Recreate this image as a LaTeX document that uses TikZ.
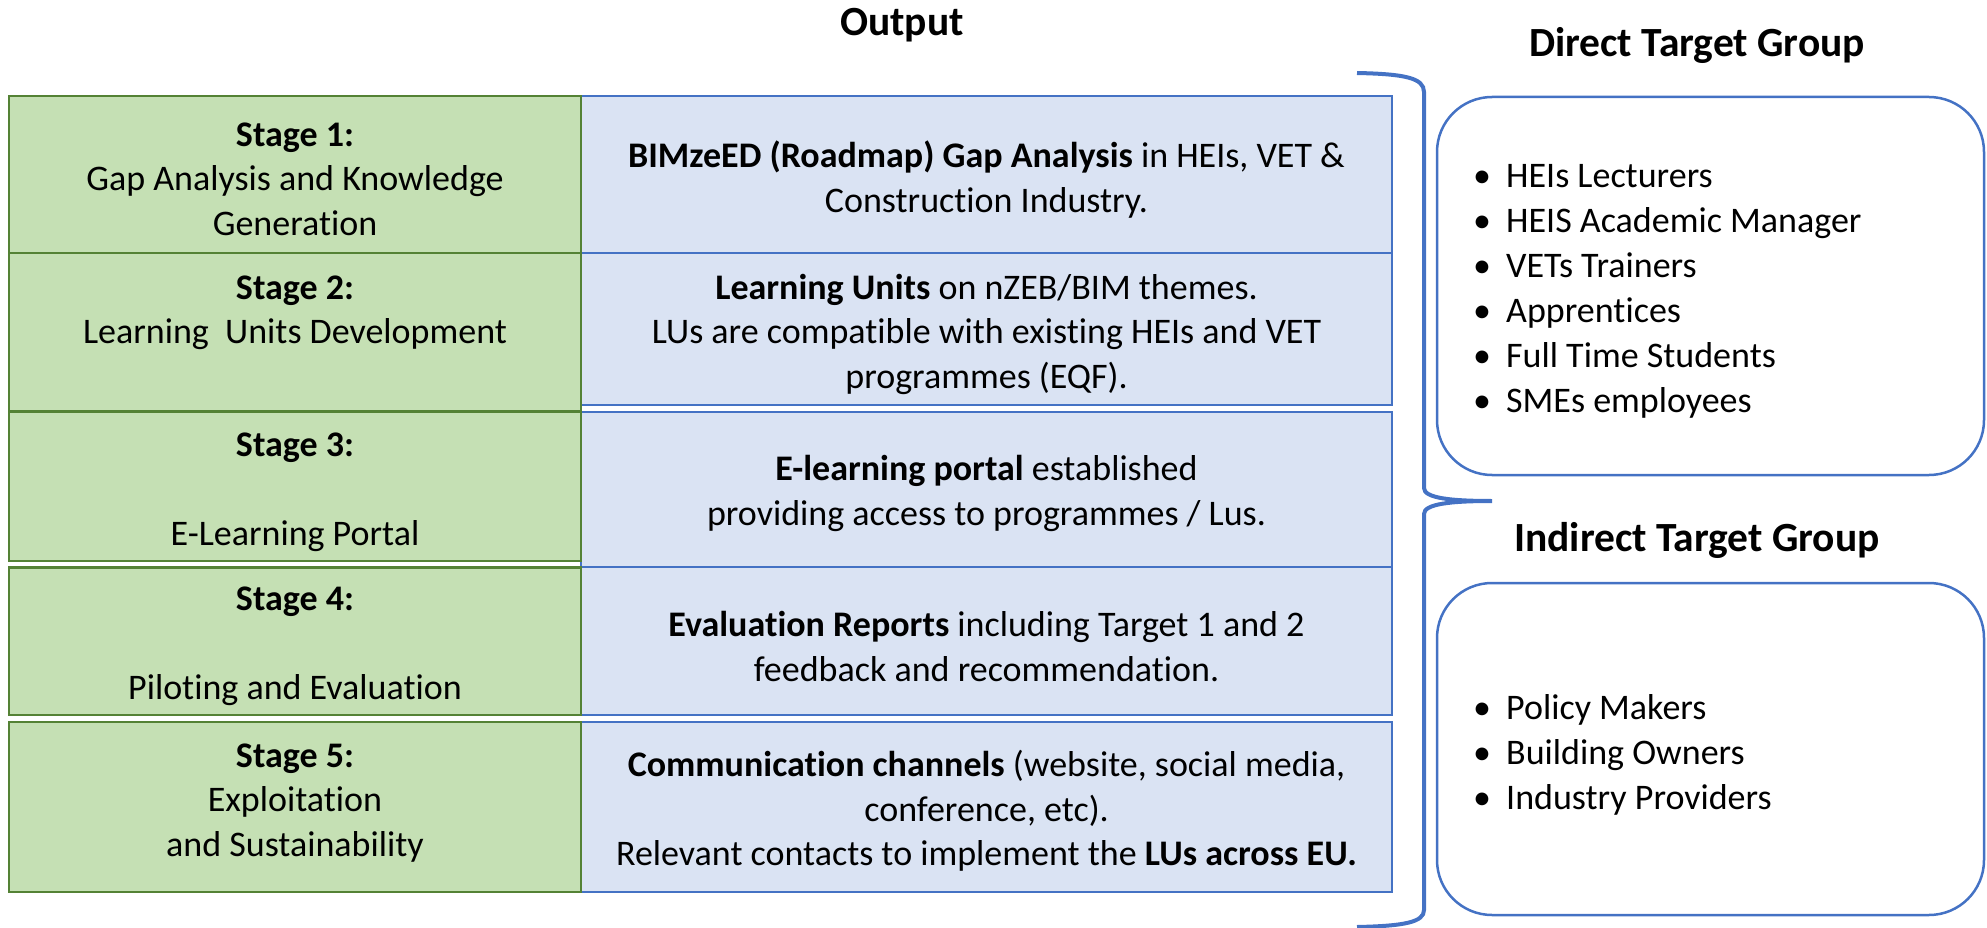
\documentclass[tikz,border=0pt]{standalone}
\usepackage{fontspec}
\setmainfont{Carlito}[Ligatures=NoCommon]
\definecolor{grnF}{HTML}{C5E0B4}
\definecolor{grnB}{HTML}{548235}
\definecolor{bluF}{HTML}{DAE3F3}
\definecolor{bluB}{HTML}{4472C4}
\newcommand\bitem[1]{\makebox[33pt][l]{\textbullet}#1}
\begin{document}
\begin{tikzpicture}[x=1pt,y=-1pt,
  gbox/.style={draw=grnB, fill=grnF, line width=2.5pt},
  bbox/.style={draw=bluB, fill=bluF, line width=2.5pt},
  tbox/.style={draw=bluB, line width=2.5pt, rounded corners=55pt},
  body/.style={font=\fontsize{36}{44.5}\selectfont, align=center, inner sep=0pt, yshift=-3pt},
  blist/.style={font=\fontsize{36}{45}\selectfont, align=left, inner sep=0pt, anchor=west, yshift=-4pt},
  ttl/.style={font=\fontsize{41.5}{50}\selectfont\bfseries, inner sep=0pt, yshift=-2pt},
  bracestyle/.style={draw=bluB, line width=4pt}]
\useasboundingbox (0,0) rectangle (1987,928);

% blue output boxes
\path[bbox] (581,96) rectangle (1392,253);
\path[bbox] (581,253) rectangle (1392,405);
\path[bbox] (581,412) rectangle (1392,567);
\path[bbox] (581,567) rectangle (1392,715);
\path[bbox] (581,722) rectangle (1392,892);

% green stage boxes
\path[gbox] (9,96) rectangle (581,253);
\path[gbox] (9,253) rectangle (581,411.5);
\path[gbox] (9,411.5) rectangle (581,561);
\path[gbox] (9,567.5) rectangle (581,715);
\path[gbox] (9,722) rectangle (581,892);

% titles
\node[ttl] (tout) at (902,23) {Output};
\node[ttl] (tdir) at (1697,43) {Direct Target Group};
\node[ttl] (tind) at (1697,538) {Indirect Target Group};

% stage texts
\node[body] (s1) at (295,176) {\textbf{Stage 1:}\\Gap Analysis and Knowledge\\Generation};
\node[body] (s2) at (295,310) {\textbf{Stage 2:}\\Learning\ \ Units Development};
\node[body] (s3) at (295,489) {\textbf{Stage 3:}\\[44.5pt]E-Learning Portal};
\node[body] (s4) at (295,643.5) {\textbf{Stage 4:}\\[44.5pt]Piloting and Evaluation};
\node[body] (s5) at (295,800) {\textbf{Stage 5:}\\Exploitation\\and Sustainability};

% output texts
\node[body] (o1) at (986.5,176.5) {\textbf{BIMzeED (Roadmap) Gap Analysis} in HEIs, VET \&\\Construction Industry.};
\node[body] (o2) at (986.5,331) {\textbf{Learning Units} on nZEB/BIM themes.\\LUs are compatible with existing HEIs and VET\\programmes (EQF).};
\node[body] (o3) at (986.5,490.5) {\textbf{E-learning portal} established\\providing access to programmes / Lus.};
\node[body] (o4) at (986.5,643.5) {\textbf{Evaluation Reports} including Target 1 and 2\\feedback and recommendation.};
\node[body] (o5) at (986.5,808) {\textbf{Communication channels} (website, social media,\\conference, etc).\\Relevant contacts to implement the \textbf{LUs across EU.}};

% target group boxes
\path[tbox] (1437,97) rectangle (1984,475);
\path[tbox] (1437,583) rectangle (1984,915);

\node[blist] (ldir) at (1473,287.5) {\bitem{HEIs Lecturers}\\\bitem{HEIS Academic Manager}\\\bitem{VETs Trainers}\\\bitem{Apprentices}\\\bitem{Full Time Students}\\\bitem{SMEs employees}};
\node[blist] (lind) at (1473,751) {\bitem{Policy Makers}\\\bitem{Building Owners}\\\bitem{Industry Providers}};

% brace
\coordinate (btop) at (1357,73);
\coordinate (btip) at (1492,501);
\coordinate (bbot) at (1357,927);
\draw[bracestyle] (btop) .. controls (1405,74) and (1424,78) .. (1424,92)
  -- (1424,488) .. controls (1424,498) and (1450,501) .. (btip)
  .. controls (1450,501) and (1424,504) .. (1424,514)
  -- (1424,910) .. controls (1424,922) and (1405,926) .. (bbot);
\end{tikzpicture}
\end{document}
